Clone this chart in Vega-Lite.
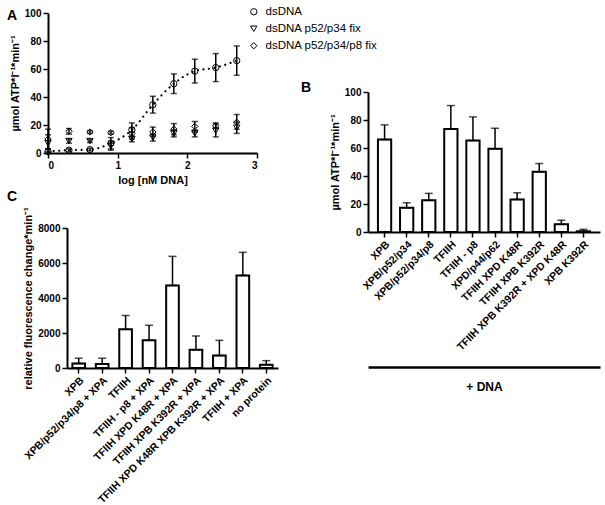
{
  "$schema": "https://vega.github.io/schema/vega-lite/v6.json",
  "padding": {"left": 7, "top": 6, "right": 5, "bottom": 5},
  "background": "white",
  "config": {
    "font": "Liberation Sans",
    "view": {"stroke": null},
    "axis": {
      "grid": false,
      "labelOverlap": false,
      "domainColor": "black", "domainWidth": 2,
      "tickColor": "black", "tickWidth": 1.5, "tickSize": 5,
      "labelColor": "black", "labelFont": "Liberation Sans", "labelFontSize": 10, "labelFontWeight": "bold", "labelPadding": 2,
      "titleColor": "black", "titleFont": "Liberation Sans", "titleFontSize": 11, "titleFontWeight": "bold"
    },
    "title": {"fontSize": 14, "fontWeight": "bold", "anchor": "start", "frame": "group", "offset": 0, "color": "black", "font": "Liberation Sans"}
  },
  "datasets": {
    "a": [
      {"x": 0, "y": 1, "lo": 0, "hi": 3, "s": "dsDNA"},
      {"x": 0.301, "y": 2, "lo": 1, "hi": 3, "s": "dsDNA"},
      {"x": 0.602, "y": 2.4, "lo": 1.4, "hi": 3.4, "s": "dsDNA"},
      {"x": 0.903, "y": 7, "lo": 3, "hi": 11, "s": "dsDNA"},
      {"x": 1.204, "y": 16.5, "lo": 11.5, "hi": 21.5, "s": "dsDNA"},
      {"x": 1.505, "y": 34.5, "lo": 28.5, "hi": 40.5, "s": "dsDNA"},
      {"x": 1.806, "y": 49.5, "lo": 42.5, "hi": 56.5, "s": "dsDNA"},
      {"x": 2.107, "y": 58.5, "lo": 50, "hi": 67, "s": "dsDNA"},
      {"x": 2.408, "y": 61, "lo": 51, "hi": 71, "s": "dsDNA"},
      {"x": 2.709, "y": 66, "lo": 55.5, "hi": 76.5, "s": "dsDNA"},
      {"x": 0, "y": 7, "lo": 1, "hi": 13, "s": "dsDNA p52/p34 fix"},
      {"x": 0.301, "y": 8.5, "lo": 7, "hi": 10, "s": "dsDNA p52/p34 fix"},
      {"x": 0.602, "y": 8.5, "lo": 7.5, "hi": 9.5, "s": "dsDNA p52/p34 fix"},
      {"x": 0.903, "y": 5, "lo": 2, "hi": 8, "s": "dsDNA p52/p34 fix"},
      {"x": 1.204, "y": 10, "lo": 8, "hi": 12, "s": "dsDNA p52/p34 fix"},
      {"x": 1.505, "y": 11, "lo": 8.5, "hi": 13.5, "s": "dsDNA p52/p34 fix"},
      {"x": 1.806, "y": 14, "lo": 11.5, "hi": 16.5, "s": "dsDNA p52/p34 fix"},
      {"x": 2.107, "y": 14, "lo": 11.5, "hi": 16.5, "s": "dsDNA p52/p34 fix"},
      {"x": 2.408, "y": 16, "lo": 11.5, "hi": 20.5, "s": "dsDNA p52/p34 fix"},
      {"x": 2.709, "y": 18, "lo": 14, "hi": 22, "s": "dsDNA p52/p34 fix"},
      {"x": 0, "y": 10, "lo": 3, "hi": 17, "s": "dsDNA p52/p34/p8 fix"},
      {"x": 0.301, "y": 15.5, "lo": 13.5, "hi": 17.5, "s": "dsDNA p52/p34/p8 fix"},
      {"x": 0.602, "y": 15, "lo": 14, "hi": 16, "s": "dsDNA p52/p34/p8 fix"},
      {"x": 0.903, "y": 14.5, "lo": 13.5, "hi": 15.5, "s": "dsDNA p52/p34/p8 fix"},
      {"x": 1.204, "y": 14, "lo": 10, "hi": 18, "s": "dsDNA p52/p34/p8 fix"},
      {"x": 1.505, "y": 15, "lo": 12, "hi": 18.5, "s": "dsDNA p52/p34/p8 fix"},
      {"x": 1.806, "y": 17, "lo": 13, "hi": 21, "s": "dsDNA p52/p34/p8 fix"},
      {"x": 2.107, "y": 19, "lo": 15, "hi": 22.5, "s": "dsDNA p52/p34/p8 fix"},
      {"x": 2.408, "y": 19.5, "lo": 17.5, "hi": 21.5, "s": "dsDNA p52/p34/p8 fix"},
      {"x": 2.709, "y": 22, "lo": 17, "hi": 27.5, "s": "dsDNA p52/p34/p8 fix"}
    ],
    "b": [
      {"name": "XPB", "v": 66, "hi": 76.5},
      {"name": "XPB/p52/p34", "v": 17.3, "hi": 20.9},
      {"name": "XPB/p52/p34/p8", "v": 22.6, "hi": 27.6},
      {"name": "TFIIH", "v": 73.6, "hi": 90.3},
      {"name": "TFIIH - p8", "v": 65.3, "hi": 82.2},
      {"name": "XPD/p44/p62", "v": 59.4, "hi": 74.1},
      {"name": "TFIIH XPD K48R", "v": 23.3, "hi": 28},
      {"name": "TFIIH XPB K392R", "v": 43, "hi": 48.9},
      {"name": "TFIIH XPB K392R + XPD K48R", "v": 5.5, "hi": 8.4},
      {"name": "XPB K392R", "v": 0.5, "hi": 1.9}
    ],
    "c": [
      {"name": "XPB", "v": 260, "hi": 560},
      {"name": "XPB/p52/p34/p8 + XPA", "v": 230, "hi": 560},
      {"name": "TFIIH", "v": 2210, "hi": 3000},
      {"name": "TFIIH - p8 + XPA", "v": 1580, "hi": 2440},
      {"name": "TFIIH XPD K48R + XPA", "v": 4720, "hi": 6380},
      {"name": "TFIIH XPB K392R + XPA", "v": 1040, "hi": 1830},
      {"name": "TFIIH XPD K48R XPB K392R + XPA", "v": 710, "hi": 1580},
      {"name": "TFIIH + XPA", "v": 5290, "hi": 6610},
      {"name": "no protein", "v": 190, "hi": 420}
    ]
  },
  "columns": 2,
  "spacing": {"row": 15, "column": 90},
  "bounds": "flush",
  "align": "each",
  "concat": [
    {
      "width": 209, "height": 140,
      "title": {"text": "A", "dx": -41, "dy": 19},
      "data": {"name": "a"},
      "layer": [
        {
          "transform": [{"filter": "datum.s == 'dsDNA'"}],
          "mark": {"type": "line", "interpolate": "monotone", "strokeDash": [0.1, 5.5], "strokeWidth": 2.2, "strokeCap": "round", "color": "black"},
          "encoding": {
            "x": {"field": "x", "type": "quantitative", "scale": {"domain": [0, 3], "nice": false}, "axis": {"values": [0, 1, 2, 3], "tickCount": 10, "format": "d", "labelOverlap": false, "title": "log [nM DNA]"}},
            "y": {"field": "y", "type": "quantitative", "scale": {"domain": [0, 100], "nice": false}, "axis": {"values": [0, 20, 40, 60, 80, 100], "tickCount": 10, "format": "d", "labelOverlap": false}, "title": "µmol ATP*l⁻¹*min⁻¹"}
          }
        },
        {
          "mark": {"type": "errorbar", "ticks": {"size": 6, "thickness": 1.5}, "thickness": 1.5, "color": "black"},
          "encoding": {
            "x": {"field": "x", "type": "quantitative", "title": "log [nM DNA]"},
            "y": {"field": "lo", "type": "quantitative", "title": "µmol ATP*l⁻¹*min⁻¹"},
            "y2": {"field": "hi"}
          }
        },
        {
          "mark": {"type": "point", "filled": false, "color": "black", "strokeWidth": 1, "size": 40, "opacity": 1},
          "encoding": {
            "x": {"field": "x", "type": "quantitative", "title": "log [nM DNA]"},
            "y": {"field": "y", "type": "quantitative", "title": "µmol ATP*l⁻¹*min⁻¹"},
            "shape": {
              "field": "s", "type": "nominal",
              "scale": {"domain": ["dsDNA", "dsDNA p52/p34 fix", "dsDNA p52/p34/p8 fix"], "range": ["circle", "triangle-down", "diamond"]},
              "legend": {"orient": "none", "legendX": 200, "legendY": -7, "title": null, "labelFontSize": 11.5, "labelFontWeight": "normal", "labelColor": "black", "labelFont": "Liberation Sans", "symbolSize": 40, "symbolStrokeWidth": 1, "rowPadding": 4, "labelOffset": 6}
            }
          }
        }
      ]
    },
    {
      "width": 232, "height": 200,
      "title": {"text": "B", "dx": -67, "dy": 86},
      "data": {"name": "b"},
      "layer": [
        {
          "mark": {"type": "bar", "fill": "white", "stroke": "black", "strokeWidth": 2},
          "encoding": {
            "x": {"field": "name", "type": "nominal", "sort": null, "scale": {"paddingInner": 0.4, "paddingOuter": 0.45}, "axis": {"orient": "bottom", "offset": 19, "labelAngle": -45, "labelFontSize": 10.5, "title": null}},
            "y": {"field": "v", "type": "quantitative", "scale": {"domain": [0, 100], "nice": false, "range": [219, 79]}, "axis": {"values": [0, 20, 40, 60, 80, 100], "tickCount": 10, "format": "d", "labelOverlap": false}, "title": "µmol ATP*l⁻¹*min⁻¹"}
          }
        },
        {
          "mark": {"type": "errorbar", "ticks": {"size": 8, "thickness": 1.5}, "thickness": 1.5, "color": "black"},
          "encoding": {
            "x": {"field": "name", "type": "nominal", "sort": null, "axis": {"orient": "bottom", "offset": 154, "labels": false, "ticks": false, "domainWidth": 2.5, "title": "+ DNA", "titlePadding": 14, "titleFontSize": 12}},
            "y": {"field": "v", "type": "quantitative", "title": "µmol ATP*l⁻¹*min⁻¹"},
            "y2": {"field": "hi"}
          }
        }
      ],
      "resolve": {"axis": {"x": "independent"}}
    },
    {
      "width": 230, "height": 140,
      "title": {"text": "C", "dx": -41, "dy": 1},
      "data": {"name": "c"},
      "layer": [
        {
          "mark": {"type": "bar", "fill": "white", "stroke": "black", "strokeWidth": 2},
          "encoding": {
            "x": {"field": "name", "type": "nominal", "sort": null, "scale": {"paddingInner": 0.46, "paddingOuter": 0.23, "range": [19, 230]}, "axis": {"labelAngle": -45, "labelFontSize": 10.5, "title": null}},
            "y": {"field": "v", "type": "quantitative", "scale": {"domain": [0, 8000], "nice": false}, "axis": {"values": [0, 2000, 4000, 6000, 8000], "tickCount": 10, "format": "d", "offset": -19, "labelOverlap": false}, "title": "relative fluorescence change*min⁻¹"}
          }
        },
        {
          "mark": {"type": "errorbar", "ticks": {"size": 8, "thickness": 1.5}, "thickness": 1.5, "color": "black"},
          "encoding": {
            "x": {"field": "name", "type": "nominal", "sort": null, "title": null},
            "y": {"field": "v", "type": "quantitative", "title": "relative fluorescence change*min⁻¹"},
            "y2": {"field": "hi"}
          }
        }
      ]
    }
  ]
}
